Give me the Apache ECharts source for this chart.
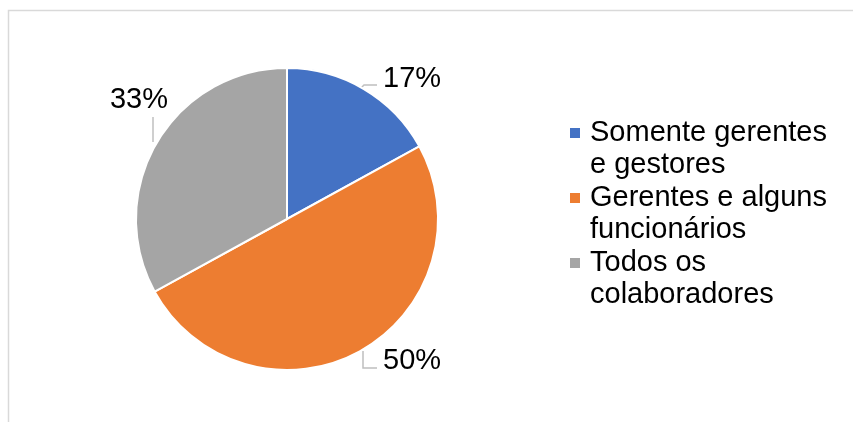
<!DOCTYPE html>
<html>
<head>
<meta charset="utf-8">
<script src="https://cdn.jsdelivr.net/npm/echarts@6/dist/echarts.min.js"></script>
<style>
html,body{margin:0;padding:0;background:#fff;}
#chart{width:853px;height:422px;}
</style>
</head>
<body>
<div id="chart"></div>
<script>
// Data
const categories = ['Somente gerentes e gestores', 'Gerentes e alguns funcionários', 'Todos os colaboradores'];
const legendLines = ['Somente gerentes\ne gestores', 'Gerentes e alguns\nfuncionários', 'Todos os\ncolaboradores'];
const values = [17, 50, 33];
const colors = ['#4472C4', '#ED7D31', '#A5A5A5'];

const chart = echarts.init(document.getElementById('chart'));
const labelFont = 'Liberation Sans, Arial, sans-serif';

// label placement (label anchor + leader line)
const labelPlacement = [
  {x: 383, y: 79, align: 'left', line: [[361, 88], [364, 85], [377, 85]]},
  {x: 383, y: 361, align: 'left', line: [[363, 351], [363, 368], [377, 368]]},
  {x: 139, y: 100, align: 'center', line: [[153, 142], [153, 130], [153, 117]]}
];

chart.setOption({
  animation: false,
  color: colors,
  graphic: [{
    type: 'rect', silent: true, z: -1,
    shape: {x: 8.5, y: 10.5, width: 1000, height: 1000},
    style: {fill: 'none', stroke: '#d9d9d9', lineWidth: 1.5}
  }],
  legend: {
    orient: 'vertical',
    left: 565,
    top: 80,
    itemWidth: 10,
    itemHeight: 10,
    itemGap: -31,
    icon: 'rect',
    selectedMode: false,
    data: categories,
    itemStyle: {borderWidth: 0},
    formatter: function (name) { return '\n' + legendLines[categories.indexOf(name)]; },
    textStyle: {
      fontFamily: labelFont, fontSize: 29, color: '#000', lineHeight: 32,
      padding: [0, 0, 0, 5]
    }
  },
  series: [{
    type: 'pie',
    center: [287, 219],
    radius: 151,
    startAngle: 90,
    clockwise: true,
    percentPrecision: 0,
    emphasis: {disabled: true},
    itemStyle: {borderColor: '#fff', borderWidth: 2},
    label: {
      show: true, position: 'outside',
      formatter: '{d}%',
      fontFamily: labelFont, fontSize: 29, color: '#000'
    },
    labelLine: {show: true, lineStyle: {color: '#bfbfbf', width: 1.5}},
    labelLayout: function (params) {
      const p = labelPlacement[params.dataIndex];
      return {x: p.x, y: p.y, align: p.align, verticalAlign: 'middle', labelLinePoints: p.line};
    },
    data: categories.map((c, i) => ({name: c, value: values[i]}))
  }]
});
</script>
</body>
</html>
